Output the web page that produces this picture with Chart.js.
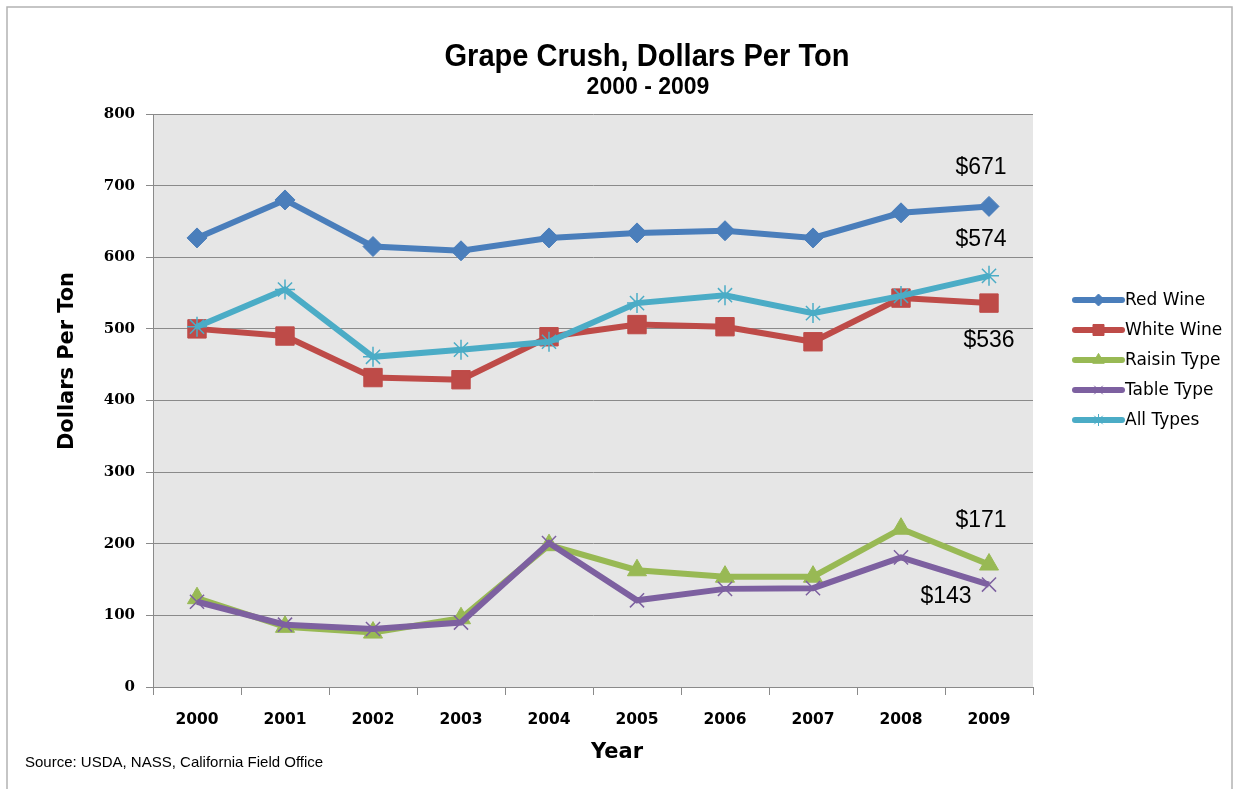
<!DOCTYPE html>
<html>
<head>
<meta charset="utf-8">
<title>Grape Crush, Dollars Per Ton</title>
<script src="https://cdn.jsdelivr.net/npm/chart.js@4"></script>
<style>
  html, body { margin: 0; padding: 0; background: #ffffff; }
  canvas { display: block; }
</style>
</head>
<body>
<canvas id="grafico" width="1235" height="789"></canvas>
<script>
// datos
const years = ["2000", "2001", "2002", "2003", "2004", "2005", "2006", "2007", "2008", "2009"];
const redWine = [627, 680, 615, 609, 627, 634, 637, 627, 662, 671];
const whiteWine = [500, 490, 432, 429, 489, 506, 503, 482, 543, 536];
const raisinType = [124, 84, 76, 96, 198, 163, 154, 154, 221, 171];
const tableType = [119, 87, 81, 90, 201, 121, 137, 138, 181, 143];
const allTypes = [503, 555, 461, 471, 482, 536, 547, 522, 546, 574];
const yMin = 0;
const yMax = 800;
const yStep = 100;

const seriesNames = ["Red Wine", "White Wine", "Raisin Type", "Table Type", "All Types"];
const seriesData = [redWine, whiteWine, raisinType, tableType, allTypes];
const seriesColors = ["#4a7ebb", "#be4b48", "#98b954", "#7d60a0", "#4bacc6"];
const seriesMarkers = ["rectRot", "rect", "triangle", "crossRot", "star"];
const seriesRadius = [10, 13, 11, 10, 10];
// orden de dibujo: All Types arriba de todo
const seriesOrder = [5, 4, 3, 2, 1];

// etiquetas de valor final: [serie, dx, dy]
const endLabels = [[0, -8, -39], [4, -8, -36], [1, 0, 38], [2, -8, -44], [3, -43, 12]];

const datasets = [];
for (let i = 0; i < seriesNames.length; i++) {
  datasets.push({
    label: seriesNames[i],
    data: seriesData[i],
    borderColor: seriesColors[i],
    backgroundColor: seriesColors[i],
    borderWidth: 6,
    tension: 0,
    pointStyle: seriesMarkers[i],
    pointRadius: seriesRadius[i],
    pointBorderWidth: (seriesMarkers[i] === "crossRot" || seriesMarkers[i] === "star") ? 1.5 : 1,
    pointBorderColor: seriesColors[i],
    pointBackgroundColor: seriesColors[i],
    order: seriesOrder[i],
  });
}

const fondoPlugin = {
  id: "fondo",
  beforeDraw(chart) {
    const ctx = chart.ctx;
    const a = chart.chartArea;
    ctx.save();
    ctx.fillStyle = "#ffffff";
    ctx.fillRect(0, 0, chart.width, chart.height);
    ctx.fillStyle = "#e6e6e6";
    ctx.fillRect(a.left, a.top, a.right - a.left, a.bottom - a.top);
    ctx.restore();
  },
  afterDraw(chart) {
    const ctx = chart.ctx;
    const xs = chart.scales.x;
    const ys = chart.scales.y;
    ctx.save();

    // marco exterior
    ctx.strokeStyle = "#b3b3b3";
    ctx.lineWidth = 1.5;
    ctx.strokeRect(7, 7, 1225, 800);

    ctx.fillStyle = "#000000";
    ctx.textAlign = "center";
    ctx.textBaseline = "alphabetic";
    ctx.font = 'bold 31px "Liberation Sans Narrow", "Liberation Sans", Arial, sans-serif';
    ctx.fillText("Grape Crush, Dollars Per Ton", 647, 66, 405);
    ctx.font = 'bold 23px "Liberation Sans Narrow", "Liberation Sans", Arial, sans-serif';
    ctx.fillText("2000 - 2009", 648, 94, 127);

    // titulos de ejes
    ctx.font = 'bold 22px "DejaVu Sans", sans-serif';
    ctx.fillText("Year", 617, 758, 52);
    ctx.save();
    ctx.translate(73, 361);
    ctx.rotate(-Math.PI / 2);
    ctx.font = 'bold 21px "DejaVu Sans", sans-serif';
    ctx.fillText("Dollars Per Ton", 0, 0, 178);
    ctx.restore();

    // fuente
    ctx.textAlign = "left";
    ctx.font = '15px "Liberation Sans", Arial, sans-serif';
    ctx.fillText("Source: USDA, NASS, California Field Office", 25, 767, 326);

    // etiquetas de valor
    ctx.textAlign = "center";
    ctx.textBaseline = "middle";
    ctx.font = '23px "Liberation Sans", Arial, sans-serif';
    const last = years.length - 1;
    for (let i = 0; i < endLabels.length; i++) {
      const s = endLabels[i][0];
      const v = seriesData[s][last];
      const px = xs.getPixelForValue(last) + endLabels[i][1];
      const py = ys.getPixelForValue(v) + endLabels[i][2];
      ctx.fillText("$" + v, px, py);
    }

    // leyenda
    const lx = 1075;
    const lw = 47;
    ctx.textAlign = "left";
    ctx.font = '17px "DejaVu Sans", sans-serif';
    for (let i = 0; i < seriesNames.length; i++) {
      const ly = 300 + i * 30;
      ctx.strokeStyle = seriesColors[i];
      ctx.fillStyle = seriesColors[i];
      ctx.lineWidth = 6;
      ctx.lineCap = "round";
      ctx.beginPath();
      ctx.moveTo(lx, ly);
      ctx.lineTo(lx + lw, ly);
      ctx.stroke();
      ctx.lineCap = "butt";
      ctx.lineWidth = 1;
      if (Chart.helpers && Chart.helpers.drawPoint) {
        Chart.helpers.drawPoint(ctx, {
          pointStyle: seriesMarkers[i],
          radius: seriesRadius[i] * 0.6,
          rotation: 0,
          borderWidth: 1,
        }, lx + lw / 2, ly);
      }
      ctx.fillStyle = "#000000";
      ctx.fillText(seriesNames[i], lx + lw + 3, ly + 1);
    }
    ctx.restore();
  },
};

new Chart(document.getElementById("grafico"), {
  type: "line",
  data: {
    labels: years,
    datasets: datasets,
  },
  options: {
    responsive: false,
    animation: false,
    layout: {
      padding: { top: 114, right: 202, bottom: 0, left: 0 },
    },
    plugins: {
      legend: { display: false },
      title: { display: false },
      tooltip: { enabled: false },
    },
    scales: {
      x: {
        offset: true,
        afterFit(scale) { scale.height = 102; },
        grid: {
          offset: true,
          drawOnChartArea: false,
          drawTicks: true,
          tickLength: 8,
          color: "#8a8a8a",
        },
        border: { display: true, color: "#8a8a8a", width: 1 },
        ticks: {
          color: "#000000",
          padding: 16,
          maxRotation: 0,
          font: { family: '"DejaVu Sans", sans-serif', size: 15.5, weight: "bold" },
        },
      },
      y: {
        min: yMin,
        max: yMax,
        afterFit(scale) { scale.width = 153; },
        grid: {
          color: "#8a8a8a",
          tickLength: 7,
        },
        border: { display: true, color: "#8a8a8a", width: 1 },
        ticks: {
          stepSize: yStep,
          color: "#000000",
          padding: 11,
          font: { family: '"DejaVu Serif", serif', size: 15, weight: "bold" },
        },
      },
    },
  },
  plugins: [fondoPlugin],
});
</script>
</body>
</html>
